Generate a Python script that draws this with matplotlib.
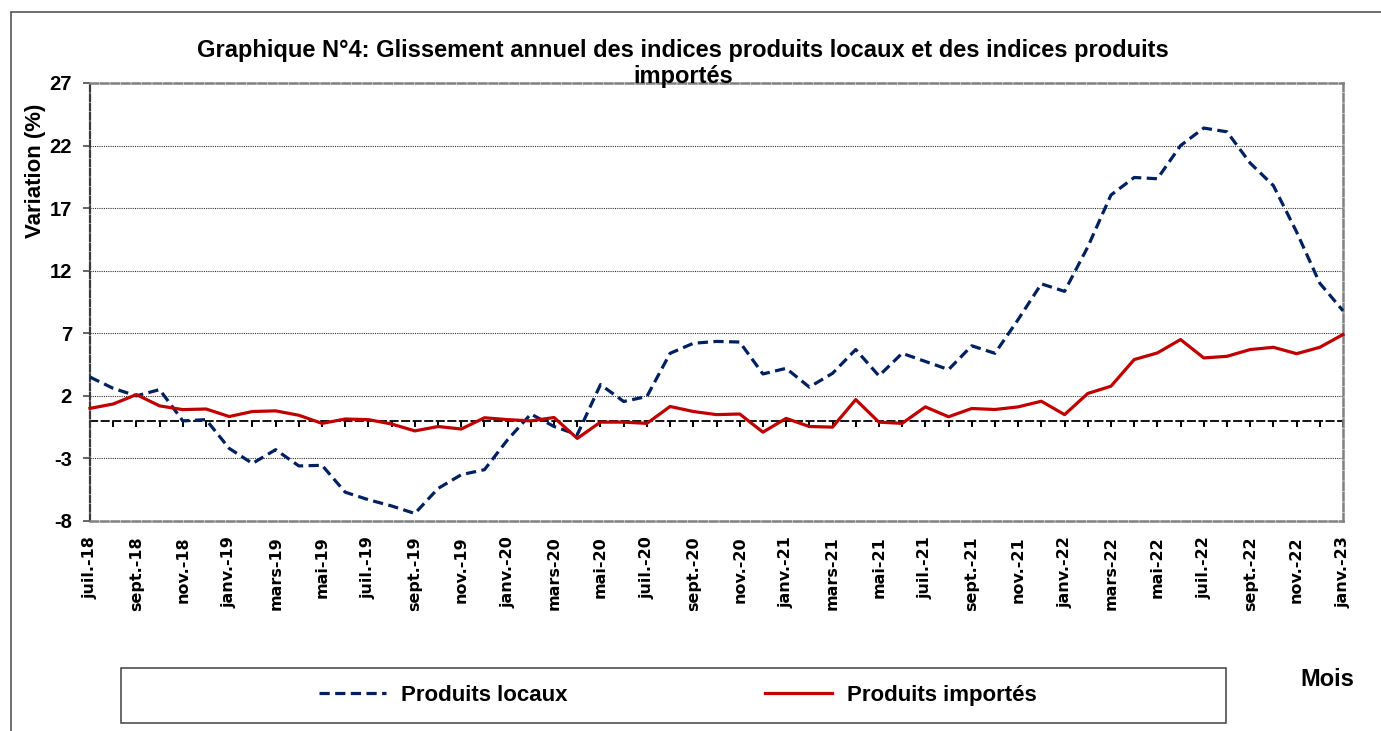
import matplotlib
matplotlib.use("Agg")
import matplotlib.pyplot as plt
from matplotlib.patches import Rectangle

# ---------------- data ----------------
months = [
    "juil.-18", "août-18", "sept.-18", "oct.-18", "nov.-18", "déc.-18",
    "janv.-19", "févr.-19", "mars-19", "avr.-19", "mai-19", "juin-19",
    "juil.-19", "août-19", "sept.-19", "oct.-19", "nov.-19", "déc.-19",
    "janv.-20", "févr.-20", "mars-20", "avr.-20", "mai-20", "juin-20",
    "juil.-20", "août-20", "sept.-20", "oct.-20", "nov.-20", "déc.-20",
    "janv.-21", "févr.-21", "mars-21", "avr.-21", "mai-21", "juin-21",
    "juil.-21", "août-21", "sept.-21", "oct.-21", "nov.-21", "déc.-21",
    "janv.-22", "févr.-22", "mars-22", "avr.-22", "mai-22", "juin-22",
    "juil.-22", "août-22", "sept.-22", "oct.-22", "nov.-22", "déc.-22",
    "janv.-23",
]

produits_locaux = [
    3.5, 2.6, 2.0, 2.5, 0.0, 0.1,
    -2.2, -3.4, -2.3, -3.6, -3.55, -5.7,
    -6.3, -6.8, -7.4, -5.4, -4.3, -3.9,
    -1.5, 0.55, -0.45, -1.1, 2.9, 1.55,
    1.95, 5.4, 6.2, 6.35, 6.3, 3.75,
    4.2, 2.7, 3.8, 5.7, 3.6, 5.4,
    4.75, 4.1, 6.0, 5.4, 8.1, 10.95,
    10.35, 13.9, 18.05, 19.45, 19.35, 22.0,
    23.4, 23.1, 20.6, 18.8, 15.1, 11.0,
    8.8,
]

produits_importes = [
    1.0, 1.35, 2.1, 1.2, 0.9, 0.95,
    0.35, 0.75, 0.8, 0.45, -0.2, 0.15,
    0.1, -0.25, -0.8, -0.45, -0.65, 0.25,
    0.1, 0.0, 0.27, -1.4, -0.1, -0.1,
    -0.2, 1.15, 0.75, 0.5, 0.55, -0.9,
    0.2, -0.45, -0.5, 1.7, -0.1, -0.2,
    1.12, 0.33, 0.99, 0.91, 1.12, 1.57,
    0.5, 2.19, 2.77, 4.9, 5.43, 6.5,
    5.03, 5.16, 5.7, 5.88, 5.37, 5.88,
    6.9,
]

y_ticks = [-8, -3, 2, 7, 12, 17, 22, 27]
title = ("Graphique N°4: Glissement annuel des indices produits locaux et des indices produits\n"
         "importés")

# ---------------- style ----------------
W, H = 1381, 731
plt.rcParams["font.family"] = ["Liberation Sans", "DejaVu Sans"]
plt.rcParams["font.weight"] = "bold"

NAVY = "#002060"
RED = "#C00000"
GRAY = "#808080"

fig = plt.figure(figsize=(W / 100, H / 100), dpi=100)
ax = fig.add_axes([90 / W, 1 - 521 / H, (1343 - 90) / W, (521 - 83) / H])

x = list(range(len(months)))
ax.plot(x, produits_locaux, color=NAVY, lw=2.3, linestyle=(0, (3.2, 1.7)),
        label="Produits locaux", zorder=3, clip_on=False)
ax.plot(x, produits_importes, color=RED, lw=2.3,
        label="Produits importés", zorder=4, clip_on=False)

ymin, ymax = -8, 27
ax.set_ylim(ymin, ymax)
ax.set_xlim(0, len(months) - 1)

# gridlines
ax.set_yticks(y_ticks)
ax.set_yticklabels([str(v) for v in y_ticks])
for v in y_ticks[1:-1]:
    ax.axhline(v, color="#333333", lw=0.8, linestyle=(0, (1, 1)), zorder=1)

# spines
for s in ["top", "right", "bottom"]:
    ax.spines[s].set_color(GRAY)
    ax.spines[s].set_linewidth(1.8)
    ax.spines[s].set_linestyle((0, (3.0, 1.2)))
ax.spines["left"].set_color("#3a3a3a")
ax.spines["left"].set_linewidth(1.6)
ax.spines["left"].set_linestyle((0, (3.0, 1.2)))

ax.tick_params(axis="y", direction="out", length=5, width=1.1, color="#3a3a3a",
               labelsize=14.5, pad=8)
for lab in ax.get_yticklabels():
    lab.set_fontweight("bold")

# x labels (every other month)
ax.set_xticks(x[::2])
ax.set_xticklabels(months[::2], rotation=90, fontsize=11.5, fontweight="bold",
                   family=["DejaVu Sans"])
ax.tick_params(axis="x", length=0, pad=11)

# zero axis with small tick marks
zero_loc = (0 - ymin) / (ymax - ymin)
sec = ax.secondary_xaxis(zero_loc)
sec.set_xticks(x)
sec.tick_params(axis="x", direction="out", length=4, width=1.4, color="black",
                labelbottom=False)
sec.spines["bottom"].set_color("black")
sec.spines["bottom"].set_linewidth(1.3)
sec.spines["bottom"].set_linestyle((0, (4, 2.4)))

# y label
fig.text(35 / W, 1 - 171 / H, "Variation (%)", rotation=90, ha="center", va="center",
         fontsize=16, fontweight="bold")

# title
fig.text(683 / W, 1 - 63.5 / H, title, ha="center", va="center", fontsize=17,
         fontweight="bold", linespacing=1.12, zorder=10)

# outer figure border
fig.patches.append(Rectangle((10.5 / W, -0.05), 1.2, 1 - 12 / H + 0.05,
                             transform=fig.transFigure, fill=False,
                             edgecolor="#555555", lw=1.2))

# legend box
fig.patches.append(Rectangle((120.7 / W, 1 - 722.5 / H), (1226 - 120.7) / W,
                             (722.5 - 668) / H, transform=fig.transFigure,
                             fill=False, edgecolor="#404040", lw=1.1))
handles, labels = ax.get_legend_handles_labels()
fig.legend(handles, labels, loc="center", bbox_to_anchor=(678 / W, 1 - 695.5 / H),
           ncol=2, frameon=False, prop={"weight": "bold", "size": 16},
           handlelength=3.0, handletextpad=0.68, columnspacing=8.9)

fig.text(1300 / W, 1 - 680 / H, "Mois", ha="left", va="center", fontsize=17,
         fontweight="bold")

fig.savefig("out.png", dpi=100)
